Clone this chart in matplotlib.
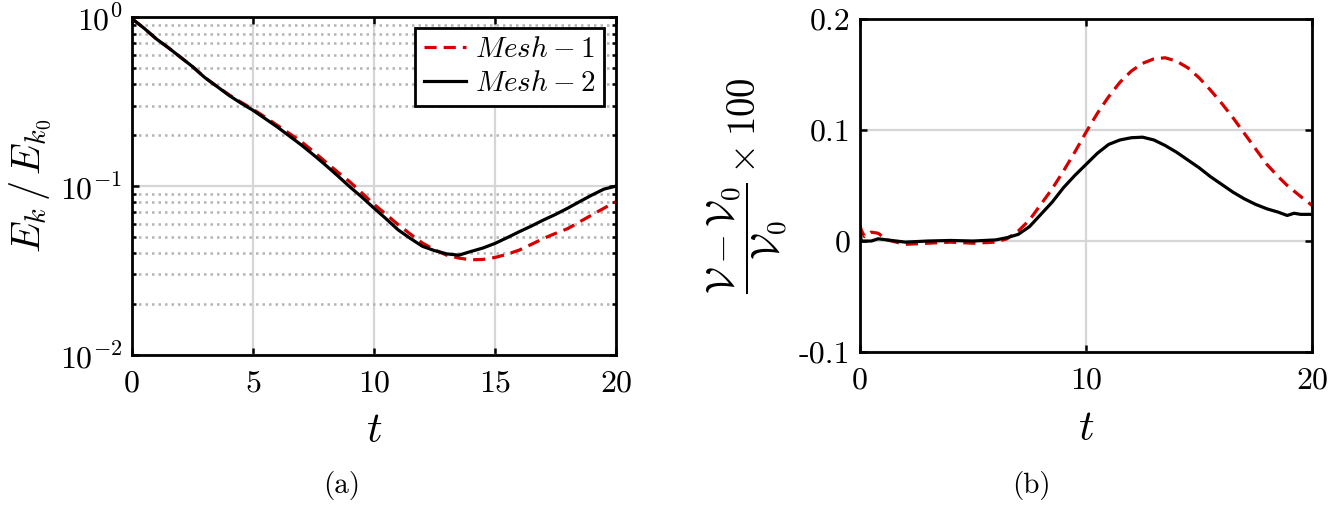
import matplotlib
matplotlib.use("Agg")
import matplotlib.pyplot as plt
from matplotlib.ticker import LogLocator, NullFormatter, FixedLocator

plt.rcParams['font.family'] = 'serif'
plt.rcParams['font.serif'] = ['cmr10', 'DejaVu Serif']
plt.rcParams['mathtext.fontset'] = 'cm'
plt.rcParams['axes.unicode_minus'] = False
plt.rcParams['axes.formatter.use_mathtext'] = True

# (a) kinetic energy decay
t_a = [0, 0.5, 1, 1.5, 2, 2.5, 3, 3.5, 4, 4.5, 5, 5.5, 6, 6.5, 7, 7.5, 8, 8.5, 9, 9.5,
       10, 10.5, 11, 11.5, 12, 12.5, 13, 13.5, 14, 14.5, 15, 15.5, 16, 16.5, 17, 17.5,
       18, 18.5, 19, 19.5, 20]
ek_mesh2 = [0.98, 0.86, 0.745, 0.66, 0.58, 0.51, 0.44, 0.39, 0.345, 0.31, 0.281, 0.251, 0.224,
            0.198, 0.175, 0.153, 0.133, 0.115, 0.099, 0.086, 0.074, 0.064, 0.055, 0.049, 0.044,
            0.0415, 0.0397, 0.039, 0.041, 0.043, 0.0458, 0.0495, 0.0537, 0.058, 0.063, 0.068,
            0.074, 0.081, 0.0885, 0.096, 0.1]
ek_mesh1 = [0.98, 0.86, 0.745, 0.66, 0.58, 0.51, 0.44, 0.39, 0.348, 0.314, 0.285, 0.256, 0.229,
            0.205, 0.183, 0.160, 0.139, 0.121, 0.106, 0.091, 0.078, 0.068, 0.059, 0.052, 0.046,
            0.042, 0.039, 0.0375, 0.0366, 0.0368, 0.0378, 0.0395, 0.0418, 0.0452, 0.049, 0.0525,
            0.056, 0.0615, 0.0675, 0.074, 0.081]

# (b) relative volume change x 100
t_b = [0, 0.05, 0.2, 0.5, 0.8, 1.2, 2, 3, 4, 5, 6, 6.5, 7, 7.5, 8, 8.5, 9, 9.5, 10, 10.5,
       11, 11.5, 12, 12.5, 13, 13.5, 14, 14.5, 15, 15.5, 16, 16.5, 17, 17.5, 18, 18.5,
       18.9, 19.2, 19.5, 20]
dv_mesh2 = [0.012, 0.0, 0.0, 0.0, 0.002, 0.001, -0.001, 0.0, 0.0005, 0.0, 0.001, 0.003, 0.006,
            0.013, 0.024, 0.035, 0.048, 0.059, 0.069, 0.079, 0.087, 0.091, 0.093, 0.0935, 0.091,
            0.086, 0.08, 0.073, 0.066, 0.058, 0.051, 0.044, 0.038, 0.033, 0.029, 0.026,
            0.023, 0.025, 0.024, 0.024]
dv_mesh1 = [0.014, 0.01, 0.004, 0.008, 0.007, 0.001, -0.003, -0.002, -0.001, -0.002, -0.001,
            0.002, 0.009, 0.019, 0.033, 0.047, 0.063, 0.080, 0.098, 0.115, 0.130, 0.143, 0.153,
            0.160, 0.164, 0.165, 0.162, 0.156, 0.147, 0.136, 0.124, 0.111, 0.097, 0.083, 0.069,
            0.058, 0.050, 0.045, 0.040, 0.032]

red = '#d40000'
grid_c = '#d6d6d6'

fig = plt.figure(figsize=(13.39, 5.11), dpi=100)
ax1 = fig.add_axes([0.0986, 0.3053, 0.3615, 0.661])
ax2 = fig.add_axes([0.6423, 0.311, 0.3376, 0.652])

# ---- panel (a)
ax1.plot(t_a, ek_mesh1, '--', color=red, lw=2.3, dashes=(3.8, 2.2), label=r'$Mesh-1$')
ax1.plot(t_a, ek_mesh2, '-', color='black', lw=2.3, label=r'$Mesh-2$')
ax1.set_yscale('log')
ax1.set_xlim(0, 20)
ax1.set_ylim(1e-2, 1)
ax1.set_xticks([0, 5, 10, 15, 20])
ax1.set_xticklabels(['0', '5', '10', '15', '20'])
ax1.yaxis.set_major_locator(FixedLocator([1e-2, 1e-1, 1]))
ax1.set_yticklabels([r'$10^{-2}$', r'$10^{-1}$', r'$10^{0}$'])
ax1.yaxis.set_minor_locator(LogLocator(base=10, subs=range(2, 10)))
ax1.yaxis.set_minor_formatter(NullFormatter())
ax1.grid(True, which='major', color=grid_c, lw=1.6)
ax1.grid(True, which='minor', axis='y', color='#b4b4b4', lw=1.8, ls=(0, (1, 1.6)))
ax1.set_xlabel(r'$t$', fontsize=31, labelpad=11)
ax1.set_ylabel(r'$E_k\,/\,E_{k_0}$', fontsize=29, labelpad=4)
leg = ax1.legend(loc='upper right', bbox_to_anchor=(0.975, 0.968), borderaxespad=0,
                 fontsize=21, handlelength=1.45, handletextpad=0.3, borderpad=0.3,
                 labelspacing=0.25, fancybox=False, framealpha=1, edgecolor='black')
leg.get_frame().set_linewidth(2.0)

# ---- panel (b)
ax2.plot(t_b, dv_mesh1, '--', color=red, lw=2.3, dashes=(3.8, 2.2))
ax2.plot(t_b, dv_mesh2, '-', color='black', lw=2.3)
ax2.set_xlim(0, 20)
ax2.set_ylim(-0.1, 0.2)
ax2.set_xticks([0, 10, 20])
ax2.set_xticklabels(['0', '10', '20'])
ax2.set_yticks([-0.1, 0, 0.1, 0.2])
ax2.set_yticklabels(['-0.1', '0', '0.1', '0.2'])
ax2.grid(True, which='major', color=grid_c, lw=1.6)
ax2.set_xlabel(r'$t$', fontsize=31, labelpad=11)
ax2.set_ylabel(r'$\dfrac{\mathcal{V}-\mathcal{V}_0}{\mathcal{V}_0}\times 100$', fontsize=28,
               labelpad=6)

for ax in (ax1, ax2):
    ax.set_axisbelow(True)
    for s in ax.spines.values():
        s.set_linewidth(2.0)
    ax.tick_params(which='both', direction='in', top=True, right=True, labelsize=23,
                   width=1.8)
    ax.tick_params(which='major', length=5)
    ax.tick_params(axis='x', which='major', pad=11)
    ax.tick_params(axis='y', which='major', pad=7)
    ax.tick_params(which='minor', length=3)

fig.text(0.255, 0.05, '(a)', fontsize=21, ha='center', va='center')
fig.text(0.77, 0.05, '(b)', fontsize=21, ha='center', va='center')

fig.savefig('out.png', dpi=100)
